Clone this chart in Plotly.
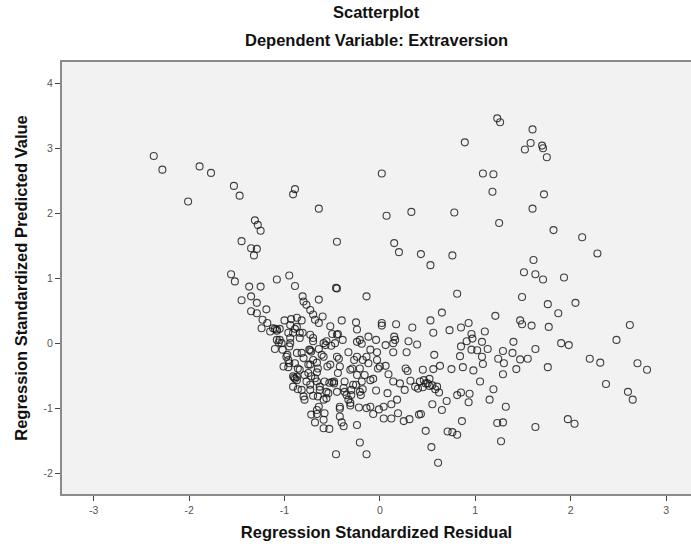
import plotly.graph_objects as go

# Regression Standardized Residual (x) and Regression Standardized Predicted Value (y)
residual = [
    # upper-left group
    -2.37, -2.28, -1.89, -1.77, -2.01, -1.53, -1.47, -0.89, -0.91, -0.64, 0.02, 0.07,
    -1.31, -1.28, -1.25, -1.45, -1.35, -1.29, -1.32, -0.45, -1.56, -1.52, -1.37, -1.25,
    -1.08, -0.95, -0.89, -0.46, -0.45,
    # upper-right group
    1.23, 1.26, 1.60, 0.89, 1.58, 1.52, 1.70, 1.71, 1.75, 1.08, 1.19, 1.18, 1.72, 1.60,
    0.33, 0.78, 1.25, 1.82, 2.12, 2.28, 0.15, 0.20, 0.43, 0.53, 0.76, 1.61, 1.51, 1.63,
    1.71, 1.93, 0.81,
    # right-middle group
    1.49, 1.76, 2.05, 1.87, 0.65, 0.53, 0.56, 0.73, 0.85, 0.93, 1.21, 1.47, 1.49, 1.59,
    1.77, 2.62, 0.96, 1.10, 0.97, 0.91, 0.85, 1.07, 1.40, 1.90, 1.98, 2.48, 0.57, 0.84,
    1.02, 1.07, 1.13, 1.29, 1.39, 1.63, 1.24, 1.30, 1.47, 1.55, 1.08, 0.87, 0.98, 0.75,
    0.63, 0.56, 0.45, 1.43, 1.76, 2.20, 2.31, 2.70, 2.80, 1.29, 1.05, 2.37, 0.46, 0.50,
    0.55, 0.60, 0.52, 0.62, 0.81, 0.85, 0.94, 0.93, 1.19, 1.15, 0.70, 0.55, 0.65, 0.43,
    1.32, 2.60, 2.65, 0.86, 0.48, 0.71, 0.76, 0.81, 1.23, 1.29, 1.63, 1.97, 2.04, 1.27,
    0.54, 0.61, 0.96, 0.42, 0.37, 0.45, 0.58, 0.26, 0.04, 0.48, 0.52,
    # central dense cloud
    -0.14, -1.45, -1.35, -1.29, -1.19, -1.35, -1.29, -0.81, -0.80, -0.77, -0.73, -0.70,
    -0.68, -0.64, -0.64, -0.60, -0.40, -0.25, -0.24, 0.02, 0.02, 0.17, 0.34, -1.23,
    -1.18, -1.24, -1.15, -1.10, -1.08, -1.00, -0.94, -0.87, -0.82, -0.89, -0.96, -0.84,
    -1.05, -1.06, -0.94, -1.10, -0.98, -0.96, -1.01, -0.96, -1.02, -0.70, -0.52, -0.50,
    -0.44, -0.39, -0.56, -0.57, -0.51, -0.64, -0.74, -0.82, -0.45, -0.43, -0.33, -0.24,
    -0.19, -0.12, -0.04, -0.10, -0.03, 0.06, 0.15, 0.16, 0.14, 0.30, 0.39, 0.28, -0.27,
    -0.18, -0.14, -0.29, -0.21, -0.02, 0.00, 0.06, 0.09, 0.27, 0.29, 0.14, 0.21, 0.32,
    0.40, -0.04, 0.08, 0.12, 0.19, 0.04, 0.12, 0.25, 0.31, 0.41, -0.07, -0.01, -0.14,
    -0.22, -0.31, -0.42, -0.33, -0.20, -0.18, -0.25, -0.10, -0.07, -0.37, -0.35, -0.48,
    -0.53, -0.56, -0.59, -0.64, -0.65, -0.63, -0.66, -0.72, -0.77, -0.79, -0.72, -0.66,
    -0.68, -0.59, -0.59, -0.53, -0.40, -0.38, -0.24, -0.21, -0.46, -0.14, -0.91, -0.89,
    -0.91, -0.86, -0.84, -0.75, -0.65, -0.55, -0.70, -0.80, -0.59,
    -1.12, -1.08, -1.03, -0.93, -0.87, -0.81, -0.91, -0.94, -0.84, -0.73, -0.97, -0.95,
    -0.86, -0.66, -0.75, -0.66, -0.82, -0.73, -0.80, -0.70,
    -0.45, -0.73, -0.70, -0.59, -0.47, -0.21, 0.14, -0.87, -0.72, -0.61, -0.24, -0.12,
    -0.03, -0.89, -0.73, -0.52, -0.42, -0.31, -0.24, -0.16, -0.87, -0.79, -0.68, -0.58,
    -0.44, -0.37, -0.28, -0.19, -0.73, -0.63, -0.54, -0.45, -0.38, -0.30, -0.21, -0.56,
    -0.42, -0.10, 0.18, -0.66, -0.58, -0.42, -0.31, -0.30,
    -1.08, -1.05, -0.90, -0.87, -0.48, -0.50, -0.95,
]

predicted = [
    # upper-left group
    2.88, 2.67, 2.72, 2.62, 2.18, 2.42, 2.27, 2.37, 2.29, 2.07, 2.61, 1.96,
    1.89, 1.82, 1.73, 1.57, 1.46, 1.45, 1.35, 1.56, 1.06, 0.95, 0.87, 0.87,
    0.98, 1.04, 0.88, 0.85, 0.84,
    # upper-right group
    3.46, 3.40, 3.29, 3.09, 3.08, 2.98, 3.04, 3.00, 2.86, 2.61, 2.60, 2.33, 2.29, 2.07,
    2.02, 2.01, 1.85, 1.74, 1.63, 1.38, 1.54, 1.40, 1.37, 1.20, 1.35, 1.28, 1.09, 1.06,
    0.98, 1.01, 0.76,
    # right-middle group
    0.71, 0.60, 0.62, 0.46, 0.47, 0.35, 0.16, 0.20, 0.24, 0.31, 0.42, 0.35, 0.29, 0.27,
    0.25, 0.28, 0.14, 0.18, 0.07, 0.03, -0.05, 0.02, 0.02, 0.00, -0.03, 0.05, -0.18, -0.20,
    -0.11, -0.21, -0.09, -0.12, -0.15, -0.09, -0.24, -0.31, -0.25, -0.24, -0.32, -0.37, -0.42, -0.40,
    -0.35, -0.40, -0.41, -0.40, -0.37, -0.24, -0.30, -0.31, -0.41, -0.48, -0.59, -0.63, -0.57, -0.62,
    -0.65, -0.67, -0.55, -0.76, -0.80, -0.76, -0.78, -0.91, -0.71, -0.87, -0.89, -0.94, -1.03, -1.09,
    -0.98, -0.75, -0.87, -1.20, -1.35, -1.36, -1.37, -1.41, -1.23, -1.22, -1.29, -1.17, -1.24, -1.51,
    -1.60, -1.84, -0.10, -0.59, -0.67, -0.68, -0.71, -0.72, -0.98, -0.62, -0.66,
    # central dense cloud
    0.72, 0.66, 0.72, 0.62, 0.52, 0.49, 0.46, 0.72, 0.64, 0.59, 0.51, 0.44,
    0.36, 0.31, 0.67, 0.41, 0.35, 0.32, 0.21, 0.31, 0.27, 0.29, 0.24, 0.36,
    0.31, 0.23, 0.18, 0.22, 0.19, 0.35, 0.28, 0.39, 0.35, 0.22, 0.16, 0.16,
    0.05, 0.01, 0.00, -0.09, -0.21, -0.26, -0.36, -0.37, -0.10, 0.08, 0.26, 0.14,
    0.14, 0.05, 0.03, -0.03, -0.04, -0.09, -0.10, -0.15, -0.21, -0.24, -0.14, 0.02,
    -0.01, 0.10, 0.05, -0.10, -0.14, -0.03, 0.10, 0.05, -0.14, 0.03, -0.02, -0.14, -0.26,
    -0.26, -0.21, -0.39, -0.39, -0.39, -0.36, -0.35, -0.48, -0.39, -0.43, -0.59, -0.62, -0.58,
    -0.70, -0.73, -0.77, -0.94, -1.08, -1.16, -1.16, -1.20, -1.17, -1.10, -1.09, -1.02, -1.00,
    -0.99, -0.96, -1.01, -0.87, -0.80, -0.71, -0.64, -0.57, -0.55, -0.75, -0.80, -0.59,
    -0.61, -0.75, -0.87, -0.98, -0.82, -0.67, -0.59, -0.51, -0.59, -0.87, -1.10, -1.09,
    -1.22, -1.18, -1.31, -1.32, -1.22, -1.28, -1.26, -1.53, -1.71, -1.71, -0.51, -0.55,
    -0.67, -0.71, -0.41, -0.33, -0.39, -0.36, -0.26, -0.23, -0.21,
    0.23, 0.05, 0.00, 0.37, 0.25, 0.16, 0.16, 0.08, 0.08, -0.11, -0.18, -0.31,
    -0.39, -0.30, -0.46, -0.45, -0.72, -0.64, -0.82, -0.81,
    0.13, 0.13, 0.03, 0.00, 0.00, 0.05, 0.00, -0.15, -0.13, -0.18, -0.21, -0.31,
    -0.26, -0.31, -0.33, -0.33, -0.36, -0.41, -0.49, -0.49, -0.57, -0.49, -0.54, -0.59,
    -0.46, -0.59, -0.64, -0.59, -0.72, -0.72, -0.77, -0.75, -0.69, -0.72, -0.75, -0.85,
    -0.98, -0.98, -0.87, -1.03, -1.08, -1.13, -0.92, -0.80,
    0.21, 0.22, -0.53, -0.52, -0.62, -0.60, -0.05,
]

x_ticks = [-3, -2, -1, 0, 1, 2, 3]
y_ticks = [-2, -1, 0, 1, 2, 3, 4]

fig = go.Figure()
fig.add_trace(go.Scatter(
    x=residual, y=predicted, mode="markers",
    marker=dict(symbol="circle-open", size=7, color="rgba(20,20,20,0.8)",
                line=dict(width=1.1, color="rgba(20,20,20,0.8)")),
    hoverinfo="skip", showlegend=False,
))

tickfont = dict(family="Liberation Sans, Arial, sans-serif", size=10.5, color="#555555")
titlefont = dict(family="Liberation Sans, Arial, sans-serif", size=16.5, color="#111111")

fig.update_layout(
    width=691, height=550,
    margin=dict(l=62, r=0, t=62, b=56),
    paper_bgcolor="white",
    plot_bgcolor="#f2f2f2",
    xaxis=dict(
        range=[-3.332, 3.261], tickvals=x_ticks, ticktext=[str(v) for v in x_ticks],
        showgrid=False, zeroline=False, showline=True, mirror=True,
        linecolor="#8a8a8a", linewidth=2, ticks="outside", ticklen=5,
        tickcolor="#444444", tickwidth=1, tickfont=tickfont,
        title=dict(text="<b>Regression Standardized Residual</b>", font=titlefont, standoff=12),
    ),
    yaxis=dict(
        range=[-2.322, 4.327], tickvals=y_ticks, ticktext=[str(v) for v in y_ticks],
        showgrid=False, zeroline=False, showline=True, mirror=False,
        linecolor="#8a8a8a", linewidth=2, ticks="outside", ticklen=5,
        tickcolor="#444444", tickwidth=1, tickfont=tickfont,
        title=dict(text="<b>Regression Standardized Predicted Value</b>", font=titlefont, standoff=12),
    ),
    annotations=[
        dict(text="<b>Scatterplot</b>", xref="paper", yref="paper", x=0.5, y=1,
             yshift=50, showarrow=False, font=titlefont, yanchor="middle"),
        dict(text="<b>Dependent Variable: Extraversion</b>", xref="paper", yref="paper",
             x=0.5, y=1, yshift=22, showarrow=False, font=titlefont, yanchor="middle"),
    ],
)

fig.write_html("out.html")
